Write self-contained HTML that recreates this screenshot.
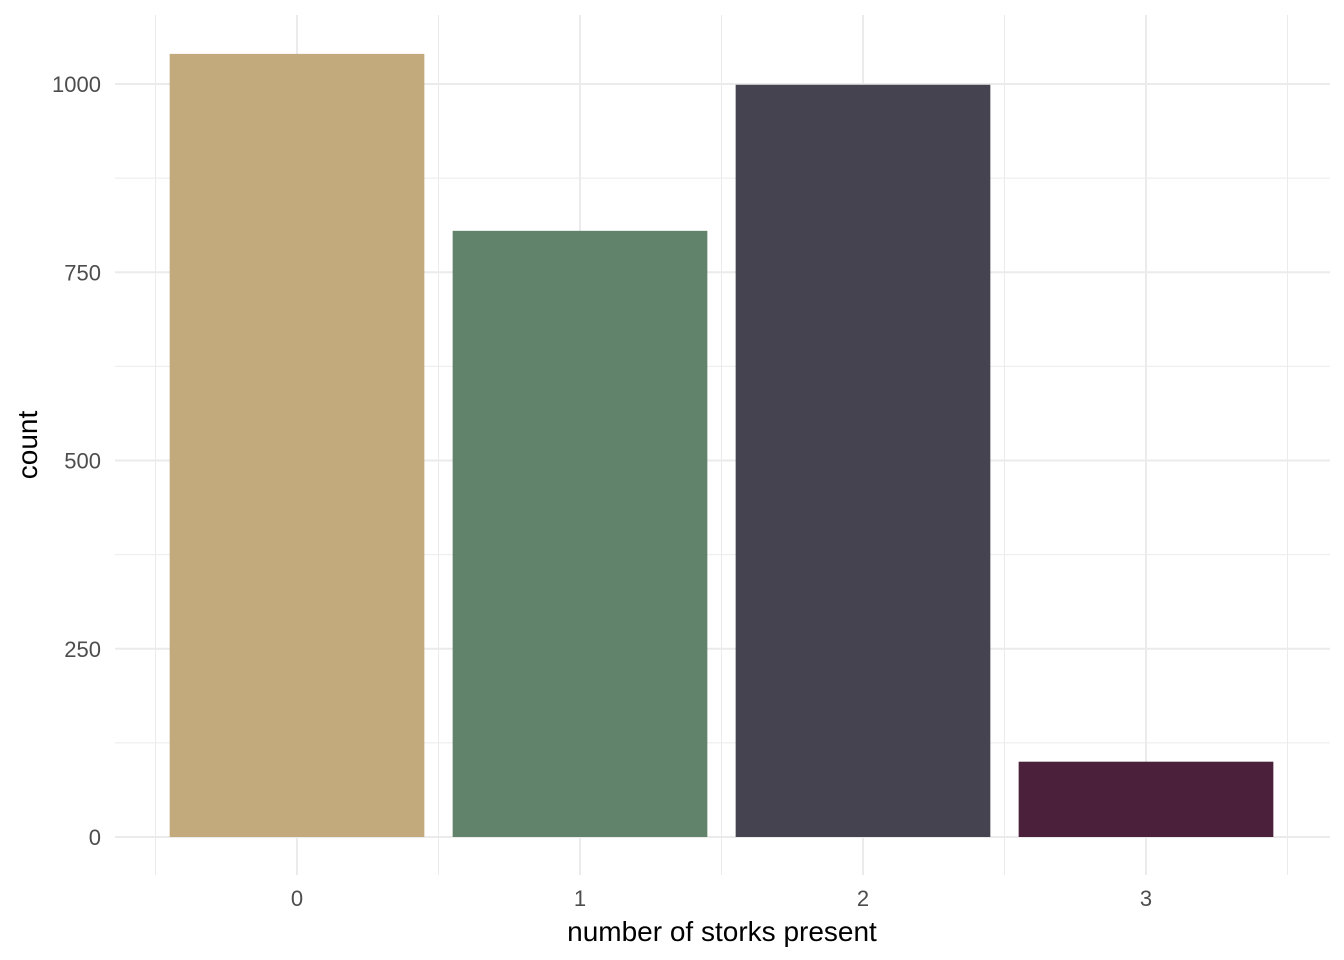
<!DOCTYPE html>
<html><head><meta charset="utf-8"><style>
body{margin:0;background:#fff}
svg{display:block;font-family:"Liberation Sans",Arial,sans-serif}
</style></head><body>
<svg id="chart" width="1344" height="960">
<g id="grid"></g>
<g id="bars"></g>
<g id="axes"></g>
<text x="722" y="941" text-anchor="middle" font-size="28" fill="#000">number of storks present</text>
<text transform="translate(37,445) rotate(-90)" text-anchor="middle" font-size="28" fill="#000">count</text>
</svg>
<script>
const categories = ["0","1","2","3"];
const counts = [1040, 805, 999, 100];
const colors = ["#c3aa7c","#61836b","#45434f","#4a203a"];
const yTicks = [0,250,500,750,1000];
const yMinor = [125,375,625,875];

const NS="http://www.w3.org/2000/svg";
const panelLeft=115,panelRight=1330,panelTop=15,panelBottom=875;
const y0=837, pxPerUnit=0.753;
const yScale=v=>y0-v*pxPerUnit;
const step=283, x0=297;
const xScale=i=>x0+i*step;
function mk(tag,attrs,parent){const e=document.createElementNS(NS,tag);for(const k in attrs)e.setAttribute(k,attrs[k]);parent.appendChild(e);return e;}
const grid=document.getElementById('grid'),bars=document.getElementById('bars'),axes=document.getElementById('axes');
yMinor.forEach(v=>{const l=mk('line',{x1:panelLeft,x2:panelRight,y1:yScale(v),y2:yScale(v),stroke:'#ebebeb','stroke-width':1},grid);

});
yTicks.forEach(v=>{const l=mk('line',{x1:panelLeft,x2:panelRight,y1:yScale(v),y2:yScale(v),stroke:'#ebebeb','stroke-width':2},grid);


const t=mk('text',{x:101,y:yScale(v)+8,'text-anchor':'end','font-size':22,fill:'#4d4d4d'},axes);t.textContent=v;

});
for(let i=0;i<=categories.length;i++){const xx=xScale(i)-step/2;const l=mk('line',{x1:xx,x2:xx,y1:panelTop,y2:panelBottom,stroke:'#ebebeb','stroke-width':1},grid);

}
categories.forEach((c,i)=>{const l=mk('line',{x1:xScale(i),x2:xScale(i),y1:panelTop,y2:panelBottom,stroke:'#ebebeb','stroke-width':2},grid);


const w=step*0.9;
const r=mk('rect',{x:xScale(i)-w/2,y:yScale(counts[i]),width:w,height:yScale(0)-yScale(counts[i]),fill:colors[i]},bars);


const t=mk('text',{x:xScale(i),y:906,'text-anchor':'middle','font-size':22,fill:'#4d4d4d'},axes);t.textContent=c;

});
</script>
</body></html>
